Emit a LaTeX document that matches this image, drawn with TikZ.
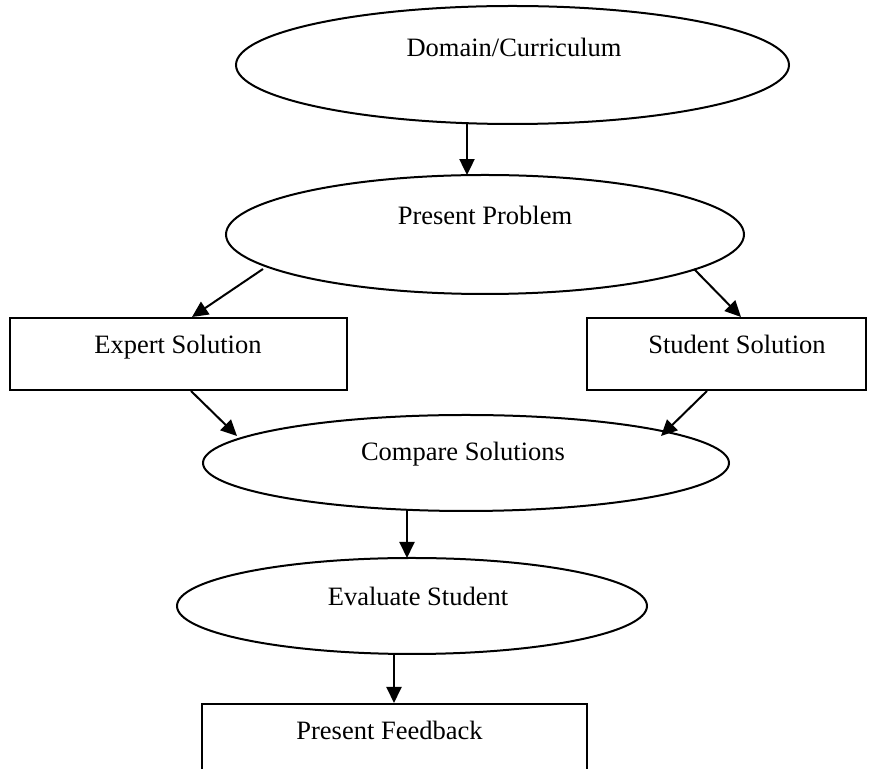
\documentclass[tikz,border=0pt]{standalone}
\usepackage{fontspec}
\setmainfont{Liberation Serif}
\usetikzlibrary{shapes.geometric,arrows.meta}
\tikzset{
  oval/.style={draw, ellipse, line width=1pt, inner sep=0pt},
  boxnode/.style={draw, rectangle, line width=1pt, inner sep=0pt},
  txt/.style={anchor=base, inner sep=0pt, font=\fontsize{13.25}{16}\selectfont},
  conn/.style={line width=1pt, -{Triangle[length=8pt,width=7.5pt]}},
}
\begin{document}
\begin{tikzpicture}[x=0.5pt, y=-0.5pt]
\useasboundingbox (0,0) rectangle (875,769);
\clip (0,0) rectangle (875,769);
% shapes
\node[oval, minimum width=276.5pt, minimum height=59pt] (dom) at (512.5,65) {};
\node[oval, minimum width=259pt, minimum height=59.5pt] (pp) at (485,234.5) {};
\node[boxnode, minimum width=168.5pt, minimum height=36pt] (exp) at (178.5,354) {};
\node[boxnode, minimum width=139.5pt, minimum height=36pt] (stu) at (726.5,354) {};
\node[oval, minimum width=263pt, minimum height=48pt] (cmp) at (466,463) {};
\node[oval, minimum width=235pt, minimum height=48pt] (eva) at (412,606) {};
\node[boxnode, minimum width=192.5pt, minimum height=36pt] (fb) at (394.5,740) {};
% texts
\node[txt] (domt) at (514,57) {Domain/Curriculum};
\node[txt] (ppt) at (485,225) {Present Problem};
\node[txt] (expt) at (178,354) {Expert Solution};
\node[txt] (stut) at (737,354) {Student Solution};
\node[txt] (cmpt) at (463,461) {Compare Solutions};
\node[txt] (evat) at (418,606) {Evaluate Student};
\node[txt] (fbt) at (389.5,740) {Present Feedback};
% connectors
\draw[conn] ([shift={(-45.5,58.2)}]dom.center) -- ([shift={(-18,-59.4)}]pp.center);
\draw[conn] ([shift={(-222,34.5)}]pp.center) -- ([shift={(13.5,0)}]exp.north);
\draw[conn] ([shift={(209,34.5)}]pp.center) -- ([shift={(14.5,0)}]stu.north);
\draw[conn] ([shift={(12.5,0)}]exp.south) -- ([shift={(-229,-27)}]cmp.center);
\draw[conn] ([shift={(-19.5,0)}]stu.south) -- ([shift={(195,-27)}]cmp.center);
\draw[conn] ([shift={(-59,46.8)}]cmp.center) -- ([shift={(-5,-48)}]eva.center);
\draw[conn] ([shift={(-18,47.5)}]eva.center) -- ([shift={(-0.5,0)}]fb.north);
\end{tikzpicture}
\end{document}
